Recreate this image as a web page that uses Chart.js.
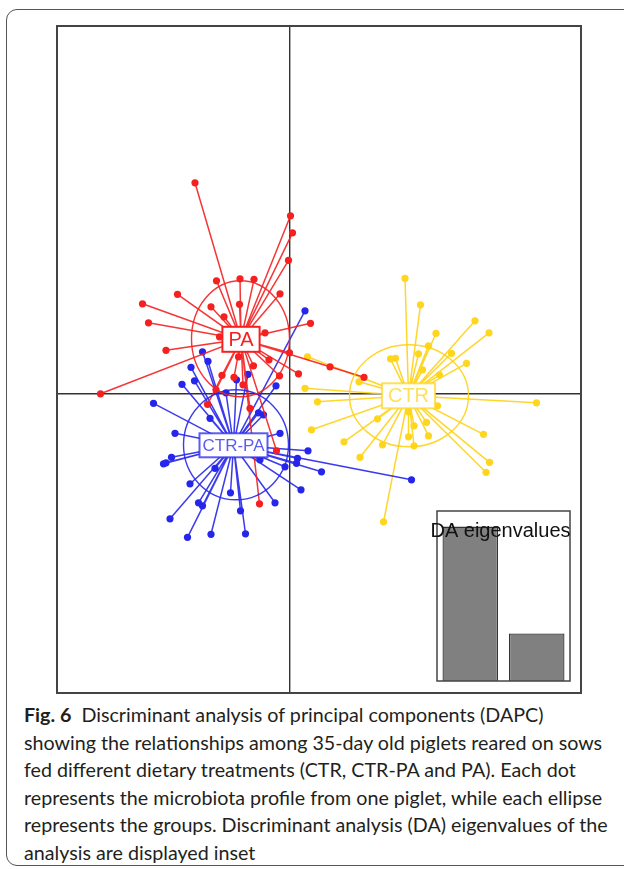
<!DOCTYPE html>
<html lang="en">
<head>
  <meta charset="UTF-8">
  <title>DAPC - piglets</title>
  <style>
    html, body { margin: 0; padding: 0; background: #fff; overflow: hidden; }
    body { width: 624px; height: 869px; position: relative; }
    #frame {
      position: absolute; left: 6px; top: 9px; width: 640px; height: 857px;
      border: 1.5px solid #555; border-radius: 11px; box-sizing: border-box;
    }
    #dapc { position: absolute; left: 52px; top: 21px; }
    #eig { position: absolute; left: 432px; top: 506px; }
    #caption {
      position: absolute; left: 24px; top: 701px;
      font-family: Lato, 'Open Sans', sans-serif; font-size: 19.7px; line-height: 27.6px;
      color: #231f20; white-space: nowrap;
    }
    #caption b { margin-right: 10px; }
  </style>
</head>
<body>
  <div id="frame"></div>
  <canvas id="dapc" width="534" height="677"></canvas>
  <canvas id="eig" width="143" height="180"></canvas>
  <div id="caption"><b>Fig. 6</b>Discriminant analysis of principal components (DAPC)<br>showing the relationships among 35-day old piglets reared on sows<br>fed different dietary treatments (CTR, CTR-PA and PA). Each dot<br>represents the microbiota profile from one piglet, while each ellipse<br>represents the groups. Discriminant analysis (DA) eigenvalues of the<br>analysis are displayed inset</div>

  <script src="https://cdn.jsdelivr.net/npm/chart.js"></script>
  <script>
    // groups and their discriminant scores (LD1, LD2)
    const groups = ['CTR', 'CTR-PA', 'PA'];

    const ctrCentroid = [2.37, -0.05];
    const ctrPaCentroid = [-1.13, -1.04];
    const paCentroid = [-0.98, 1.08];

    const ctrPoints = [
      [2.30, 2.30], [2.61, 1.77], [3.70, 1.45], [3.98, 1.21], [2.92, 1.20], [2.77, 0.95],
      [3.23, 0.80], [3.53, 0.60], [2.57, 0.79], [2.01, 0.69], [2.11, 0.70], [2.65, 0.47],
      [2.99, 0.37], [0.35, 0.73], [1.38, 0.23], [0.30, 0.10], [0.55, -0.17], [4.93, -0.19],
      [2.95, -0.25], [2.37, -0.37], [1.75, -0.51], [2.48, -0.65], [2.73, -0.58], [0.43, -0.73],
      [2.37, -0.87], [2.77, -0.85], [3.87, -0.82], [1.08, -0.97], [1.85, -1.03], [2.48, -1.05],
      [1.40, -1.28], [3.99, -1.38], [3.92, -1.58], [1.87, -2.57]
    ];

    const ctrPaPoints = [
      [0.30, 1.65], [-1.75, 0.83], [-1.64, 0.64], [-1.98, 0.52], [-1.91, 0.25], [-2.16, 0.18],
      [-1.07, 0.27], [-0.84, 0.38], [-1.28, 0.01], [-0.28, 0.15], [-2.73, -0.20], [-1.60, -0.50],
      [-0.63, -0.39], [-0.53, -0.43], [-2.30, -0.80], [-0.20, -0.80], [0.36, -1.15], [-2.37, -1.28],
      [-2.53, -1.41], [-2.48, -1.39], [-1.50, -1.50], [-0.60, -1.33], [-0.10, -1.47], [0.15, -1.30],
      [0.13, -1.40], [0.63, -1.57], [0.22, -1.93], [-2.00, -1.81], [-1.19, -1.99], [-1.83, -2.19],
      [-1.75, -2.25], [-0.30, -2.19], [-0.99, -2.35], [-2.40, -2.51], [-2.05, -2.88], [-1.58, -2.82],
      [-0.89, -2.81], [2.43, -1.73]
    ];

    const paPoints = [
      [-1.90, 4.21], [0.01, 3.55], [0.05, 3.21], [-0.03, 2.66], [-1.47, 2.25], [-1.00, 2.29],
      [-0.72, 2.28], [-0.20, 1.99], [-2.25, 1.98], [-2.95, 1.79], [-1.58, 1.73], [-1.01, 1.78],
      [-1.32, 1.53], [-2.83, 1.41], [0.41, 1.40], [-0.50, 1.21], [-1.41, 1.13], [-2.48, 0.86],
      [-0.01, 0.81], [-0.42, 0.67], [0.17, 0.39], [-0.21, 0.35], [-0.73, 0.55], [-1.03, 0.73],
      [-1.36, 0.36], [-1.12, 0.32], [-0.94, 0.17], [-1.48, 0.07], [-3.79, -0.01], [-1.65, -0.22],
      [-0.80, -0.30], [-0.27, -1.15], [-0.61, -2.21], [0.80, 0.53], [1.48, 0.32]
    ];

    // ellipse per group: centre x, centre y, half width, half height (LD units)
    const ctrEllipse = [2.38, -0.05, 1.19, 1.02];
    const ctrPaEllipse = [-1.08, -1.03, 1.05, 1.10];
    const paEllipse = [-0.99, 1.09, 0.98, 1.16];

    // inset: DA eigenvalues
    const eigLabels = ['LD1', 'LD2'];
    const eigValues = [21.8, 6.7];

    const colors = {
      'CTR': 'rgb(255, 214, 30)',
      'CTR-PA': 'rgb(38, 38, 235)',
      'PA': 'rgb(245, 32, 32)'
    };
    const spokeColors = {
      'CTR': 'rgba(255, 210, 20, 0.9)',
      'CTR-PA': 'rgba(38, 38, 235, 0.9)',
      'PA': 'rgba(245, 32, 32, 0.9)'
    };

    const groupData = {
      'CTR': { centroid: ctrCentroid, points: ctrPoints, ellipse: ctrEllipse },
      'CTR-PA': { centroid: ctrPaCentroid, points: ctrPaPoints, ellipse: ctrPaEllipse },
      'PA': { centroid: paCentroid, points: paPoints, ellipse: paEllipse }
    };

    const toXY = p => ({ x: p[0], y: p[1] });

    // star: centroid -> point -> centroid -> next point ...
    const datasets = [];
    groups.slice().reverse().forEach((g, i) => {
      const d = groupData[g];
      const c = toXY(d.centroid);
      datasets.push({
        label: g,
        data: d.points.map(toXY),
        pointRadius: 3.6,
        pointBackgroundColor: colors[g],
        pointBorderWidth: 0,
        order: i * 2
      });
      datasets.push({
        label: g + ' links',
        data: d.points.flatMap(p => [c, toXY(p)]),
        showLine: true,
        borderColor: spokeColors[g],
        borderWidth: 1.5,
        pointRadius: 0,
        order: i * 2 + 1
      });
    });

    const decor = {
      id: 'decor',
      afterDatasetsDraw(chart) {
        const { ctx, chartArea, scales } = chart;
        const xs = scales.x, ys = scales.y;
        ctx.save();

        // ellipses
        groups.forEach(g => {
          const e = groupData[g].ellipse;
          const cx = xs.getPixelForValue(e[0]);
          const cy = ys.getPixelForValue(e[1]);
          const rx = Math.abs(xs.getPixelForValue(e[0] + e[2]) - cx);
          const ry = Math.abs(ys.getPixelForValue(e[1] + e[3]) - cy);
          ctx.beginPath();
          ctx.ellipse(cx, cy, rx, ry, 0, 0, Math.PI * 2);
          ctx.strokeStyle = spokeColors[g];
          ctx.lineWidth = 1.4;
          ctx.stroke();
        });

        // group labels in boxes
        groups.forEach(g => {
          const c = groupData[g].centroid;
          const px = xs.getPixelForValue(c[0]);
          const py = ys.getPixelForValue(c[1]);
          const size = g === 'CTR-PA' ? 17 : 20;
          ctx.font = size + 'px "Liberation Sans", Arial, sans-serif';
          const w = ctx.measureText(g).width + (g === 'CTR-PA' ? 6 : 12);
          const h = g === 'CTR-PA' ? 24 : 25;
          ctx.fillStyle = '#fff';
          ctx.fillRect(px - w / 2, py - h / 2, w, h);
          ctx.strokeStyle = colors[g];
          ctx.globalAlpha = g === 'PA' ? 1 : 0.75;
          ctx.lineWidth = 2;
          ctx.strokeRect(px - w / 2, py - h / 2, w, h);
          ctx.fillStyle = colors[g];
          ctx.textAlign = 'center';
          ctx.textBaseline = 'middle';
          ctx.fillText(g, px, py + 1);
          ctx.globalAlpha = 1;
        });

        // plot frame
        ctx.strokeStyle = '#444';
        ctx.lineWidth = 2;
        ctx.strokeRect(chartArea.left, chartArea.top, chartArea.right - chartArea.left, chartArea.bottom - chartArea.top);
        ctx.restore();
      }
    };

    const zeroLine = c => (c.tick && c.tick.value === 0) ? '#333' : 'rgba(0,0,0,0)';

    new Chart(document.getElementById('dapc'), {
      type: 'scatter',
      data: { datasets },
      options: {
        responsive: false,
        animation: false,
        layout: { padding: 5 },
        plugins: { legend: { display: false }, tooltip: { enabled: false } },
        scales: {
          x: {
            type: 'linear', min: -4.66, max: 5.82,
            ticks: { display: false, stepSize: 1 },
            grid: { drawTicks: false, color: zeroLine, lineWidth: 1.4 },
            border: { display: false }
          },
          y: {
            type: 'linear', min: -5.994, max: 7.346,
            ticks: { display: false, stepSize: 1 },
            grid: { drawTicks: false, color: zeroLine, lineWidth: 1.4 },
            border: { display: false }
          }
        }
      },
      plugins: [decor]
    });

    const insetBox = {
      id: 'insetBox',
      beforeDatasetsDraw(chart) {
        const { ctx, chartArea } = chart;
        ctx.save();
        ctx.fillStyle = '#fff';
        ctx.fillRect(chartArea.left, chartArea.top, chartArea.right - chartArea.left, chartArea.bottom - chartArea.top);
        ctx.restore();
      },
      afterDatasetsDraw(chart) {
        const { ctx, chartArea } = chart;
        ctx.save();
        ctx.strokeStyle = '#444';
        ctx.lineWidth = 1.5;
        ctx.strokeRect(chartArea.left, chartArea.top, chartArea.right - chartArea.left, chartArea.bottom - chartArea.top);
        ctx.font = '20px "Liberation Sans", Arial, sans-serif';
        ctx.fillStyle = '#111';
        ctx.textAlign = 'center';
        ctx.textBaseline = 'alphabetic';
        ctx.fillText('DA eigenvalues', (chartArea.left + chartArea.right) / 2 - 3, chartArea.top + 26);
        ctx.restore();
      }
    };

    new Chart(document.getElementById('eig'), {
      type: 'bar',
      data: {
        labels: eigLabels,
        datasets: [{
          data: eigValues,
          backgroundColor: '#808080',
          borderColor: '#333',
          borderWidth: 1.3,
          barPercentage: 0.835,
          categoryPercentage: 1
        }]
      },
      options: {
        responsive: false,
        animation: false,
        layout: { padding: 5 },
        plugins: { legend: { display: false }, tooltip: { enabled: false } },
        scales: {
          x: { display: false },
          y: { display: false, min: 0, max: 24 }
        }
      },
      plugins: [insetBox]
    });
  </script>
</body>
</html>
